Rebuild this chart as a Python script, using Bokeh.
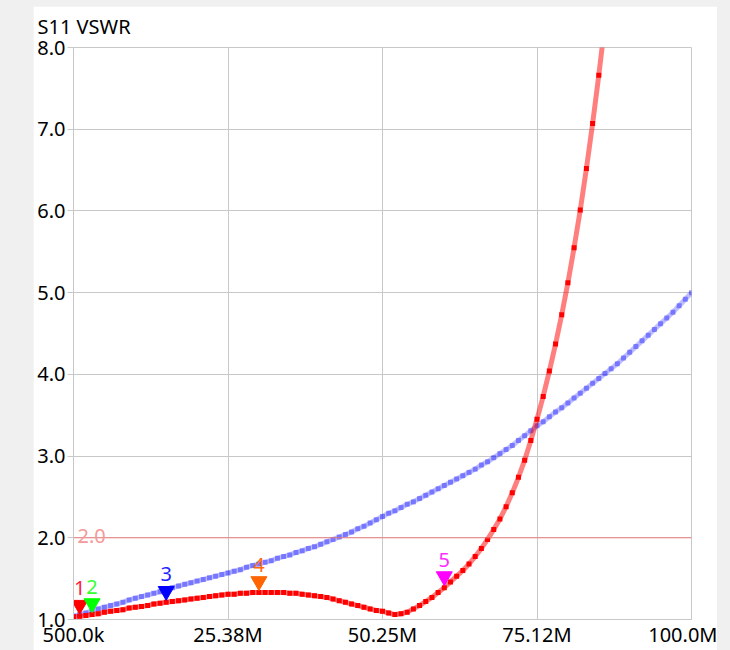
import math

import numpy as np
from bokeh.core.properties import value
from bokeh.embed import file_html
from bokeh.layouts import column
from bokeh.models import (ColumnDataSource, FixedTicker, Label,
                          PrintfTickFormatter, Range1d, Span)
from bokeh.plotting import figure
from bokeh.resources import INLINE

# ---- sweep definition (MHz) ----
SWEEP_START_MHZ = 0.5
SWEEP_STOP_MHZ = 100.0
SWEEP_POINTS = 101

# ---- measured S11 VSWR (active trace, red) ----
vswr_active = [
    1.03, 1.04, 1.05, 1.06, 1.07, 1.09, 1.10, 1.11, 1.12, 1.14,
    1.15, 1.16, 1.17, 1.19, 1.20, 1.21, 1.22, 1.23, 1.24, 1.25,
    1.26, 1.27, 1.28, 1.29, 1.30, 1.31, 1.31, 1.32, 1.32, 1.33,
    1.33, 1.33, 1.33, 1.33, 1.33, 1.32, 1.32, 1.31, 1.30, 1.29,
    1.28, 1.27, 1.25, 1.23, 1.21, 1.19, 1.17, 1.15, 1.13, 1.11,
    1.10, 1.08, 1.06, 1.07, 1.09, 1.13, 1.17, 1.22, 1.27, 1.33,
    1.39, 1.46, 1.53, 1.60, 1.68, 1.77, 1.87, 1.98, 2.10, 2.23,
    2.38, 2.55, 2.74, 2.95, 3.19, 3.45, 3.73, 4.04, 4.37, 4.73,
    5.12, 5.55, 6.01, 6.52, 7.07, 7.66, 8.30,
]

# ---- stored reference trace (blue) ----
vswr_reference = [
    1.04, 1.06, 1.08, 1.11, 1.13, 1.15, 1.17, 1.19, 1.21, 1.24,
    1.26, 1.28, 1.30, 1.32, 1.34, 1.37, 1.39, 1.41, 1.43, 1.45,
    1.47, 1.49, 1.51, 1.53, 1.55, 1.57, 1.59, 1.61, 1.64, 1.66,
    1.68, 1.70, 1.72, 1.75, 1.77, 1.79, 1.82, 1.84, 1.87, 1.89,
    1.92, 1.95, 1.98, 2.01, 2.04, 2.07, 2.11, 2.14, 2.18, 2.22,
    2.26, 2.30, 2.33, 2.37, 2.41, 2.44, 2.48, 2.52, 2.56, 2.60,
    2.64, 2.68, 2.72, 2.76, 2.80, 2.84, 2.89, 2.93, 2.98, 3.03,
    3.08, 3.13, 3.19, 3.25, 3.31, 3.37, 3.42, 3.48, 3.54, 3.59,
    3.65, 3.71, 3.77, 3.83, 3.89, 3.95, 4.01, 4.07, 4.13, 4.20,
    4.27, 4.34, 4.41, 4.48, 4.55, 4.62, 4.69, 4.76, 4.84, 4.92,
    5.00,
]

# ---- markers: sweep index on the active trace ----
marker_names = ["1", "2", "3", "4", "5"]
marker_index = [1, 3, 15, 30, 60]
marker_colors = ["#ff0000", "#00ff00", "#0000ff", "#ff6400", "#ff00ff"]
marker_text_colors = ["#ff1f3d", "#33ff33", "#1f1fff", "#ff6a10", "#ff2bff"]

# ---- axes ----
x_ticks = [0.5, 25.375, 50.25, 75.125, 100.0]
x_tick_labels = ["500.0k", "25.38M", "50.25M", "75.12M", "100.0M"]
y_ticks = [1, 2, 3, 4, 5, 6, 7, 8]
vswr_limit = 2.0

FONT = "Noto Sans"
FONT_SIZE = "20px"
FRAME_W, FRAME_H = 618, 573
Y_MIN, Y_MAX = 1.0, 8.0

freq = np.linspace(SWEEP_START_MHZ, SWEEP_STOP_MHZ, SWEEP_POINTS)

p = figure(
    frame_width=FRAME_W, frame_height=FRAME_H,
    x_range=Range1d(SWEEP_START_MHZ, SWEEP_STOP_MHZ),
    y_range=Range1d(Y_MIN, Y_MAX),
    output_backend="svg", toolbar_location=None,
    min_border_left=40, min_border_right=26,
    min_border_top=41, min_border_bottom=25,
    background_fill_color="white", border_fill_color="white",
    outline_line_color="#c8c8c8",
    title="S11 VSWR",
)
p.margin = (6, 0, 0, 33)

# title, flush with the top-left corner of the white panel
p.title.align = "left"
p.title.vertical_align = "top"
p.title.offset = -36
p.title.standoff = 12
p.title.text_font = FONT
p.title.text_font_size = FONT_SIZE
p.title.text_font_style = "normal"
p.title.text_color = "#000000"

# grid
p.xgrid.ticker = FixedTicker(ticks=x_ticks)
p.ygrid.ticker = FixedTicker(ticks=y_ticks)
for g in (p.xgrid, p.ygrid):
    g.grid_line_color = "#c8c8c8"
    g.grid_line_width = 1

# x axis
xa = p.xaxis[0]
xa.ticker = FixedTicker(ticks=x_ticks)
xa.major_label_overrides = dict(zip(x_ticks, x_tick_labels))
xa.major_tick_out = 0
xa.major_tick_in = 0
xa.minor_tick_out = 0
xa.minor_tick_in = 0
xa.axis_line_color = "#c8c8c8"
xa.major_label_standoff = 1

# y axis
ya = p.yaxis[0]
ya.ticker = FixedTicker(ticks=y_ticks)
ya.formatter = PrintfTickFormatter(format="%.1f")
ya.major_tick_out = 6
ya.major_tick_in = 0
ya.minor_tick_out = 0
ya.minor_tick_in = 0
ya.major_tick_line_color = "#c8c8c8"
ya.axis_line_color = "#c8c8c8"
ya.major_label_standoff = 2

for ax in (xa, ya):
    ax.major_label_text_font = FONT
    ax.major_label_text_font_size = FONT_SIZE
    ax.major_label_text_color = "#000000"

# VSWR limit line
p.add_layout(Span(location=vswr_limit, dimension="width",
                  line_color="#f08080", line_width=1))
p.add_layout(Label(x=SWEEP_START_MHZ, y=vswr_limit, x_offset=4, y_offset=2,
                   text=f"{vswr_limit:.1f}", text_color="#f49a9a",
                   text_font=FONT, text_font_size=FONT_SIZE,
                   text_baseline="alphabetic"))

# reference trace (blue)
ref_src = ColumnDataSource(dict(f=freq[:len(vswr_reference)], v=vswr_reference))
p.line("f", "v", source=ref_src, line_color="#0000ff", line_alpha=0.25, line_width=5)
p.scatter("f", "v", source=ref_src, marker="square", size=5,
          fill_color="#0000ff", fill_alpha=0.38, line_color=None)

# active trace (red)
act_src = ColumnDataSource(dict(f=freq[:len(vswr_active)], v=vswr_active))
p.line("f", "v", source=act_src, line_color="#ff0000", line_alpha=0.5, line_width=5)
p.scatter("f", "v", source=act_src, marker="square", size=5,
          fill_color="#ff0000", line_color=None)

# markers: inverted triangles whose tip sits just above the trace point,
# with the marker number just above each triangle
TRI_SIZE = 16
TIP_GAP_PX = 2
LABEL_GAP_PX = 19
px_per_unit = FRAME_H / (Y_MAX - Y_MIN)
tip_shift = ((TRI_SIZE / 2) * math.sqrt(3) * 2 / 3 + TIP_GAP_PX) / px_per_unit
label_shift = (LABEL_GAP_PX + TIP_GAP_PX) / px_per_unit
mk_f = [freq[i] for i in marker_index]
mk_v = [vswr_active[i] for i in marker_index]
mk_src = ColumnDataSource(dict(
    f=mk_f,
    vt=[v + tip_shift for v in mk_v],
    vl=[v + label_shift for v in mk_v],
    name=marker_names, color=marker_colors, tcolor=marker_text_colors,
))
p.scatter("f", "vt", source=mk_src, marker="inverted_triangle", size=TRI_SIZE,
          fill_color="color", line_color="color", line_width=1)
p.text("f", "vl", text="name", source=mk_src, text_color="tcolor",
       text_font=value(FONT), text_font_size=value(FONT_SIZE),
       text_align="center", text_baseline="bottom")

root = column(p, width=730, height=650,
              styles={"background-color": "#f0f0f0"})

open("out.html", "w").write(file_html(root, INLINE))
